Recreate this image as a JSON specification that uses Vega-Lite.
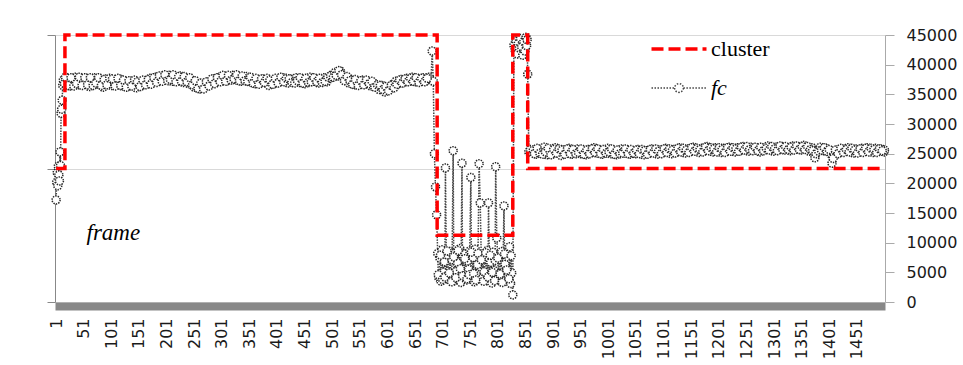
{
  "$schema": "https://vega.github.io/schema/vega-lite/v6.json",
  "autosize": {"type": "none"},
  "width": 830,
  "height": 267,
  "padding": {"left": 55, "top": 35, "right": 78, "bottom": 63},
  "background": "white",
  "config": {
    "view": {"stroke": null},
    "axis": {"labelFont": "DejaVu Sans", "labelFontSize": 16, "labelColor": "#1a1a1a", "labelOverlap": false, "format": "d"},
    "legend": {
      "orient": "none",
      "legendX": 613,
      "legendY": 3,
      "padding": 0,
      "symbolType": "stroke",
      "symbolSize": 3025,
      "symbolStrokeWidth": 3.5,
      "labelFont": "Liberation Serif",
      "labelFontSize": 22,
      "labelColor": "#000000",
      "labelOffset": 21,
      "rowPadding": 17
    }
  },
  "datasets": {
    "fc": [
      {"f":1,"v":17200},{"f":2,"v":20200},{"f":3,"v":21800},{"f":4,"v":19600},{"f":5,"v":22900},{"f":6,"v":21400},{"f":7,"v":20400},{"f":8,"v":25300},{"f":9,"v":23000},{"f":10,"v":31800},{"f":11,"v":32500},{"f":12,"v":34000},{"f":13,"v":36500},{"f":14,"v":37400},
      {"f":16,"v":36800},{"f":21,"v":37500},{"f":26,"v":36400},{"f":31,"v":37200},{"f":36,"v":37900},{"f":41,"v":36600},{"f":46,"v":37300},{"f":51,"v":36900},{"f":56,"v":37700},{"f":61,"v":36300},{"f":66,"v":37100},{"f":71,"v":37800},{"f":76,"v":36700},{"f":81,"v":37400},{"f":86,"v":36200},{"f":91,"v":37600},{"f":96,"v":37000},{"f":101,"v":36500},{"f":106,"v":37300},{"f":111,"v":36800},{"f":116,"v":37600},{"f":121,"v":36400},{"f":126,"v":37000},{"f":131,"v":36300},{"f":136,"v":37200},{"f":141,"v":36600},{"f":146,"v":36100},{"f":151,"v":37000},{"f":156,"v":36500},{"f":161,"v":37300},{"f":166,"v":36800},{"f":171,"v":37700},{"f":176,"v":37100},{"f":181,"v":37900},{"f":186,"v":37300},{"f":191,"v":38000},{"f":196,"v":37400},{"f":201,"v":37800},{"f":206,"v":38200},{"f":211,"v":37200},{"f":216,"v":37900},{"f":221,"v":37500},{"f":226,"v":38100},{"f":231,"v":37000},{"f":236,"v":37600},{"f":241,"v":36800},{"f":246,"v":37300},{"f":251,"v":36200},{"f":256,"v":36900},{"f":261,"v":35900},{"f":266,"v":36600},{"f":271,"v":36300},{"f":276,"v":37000},{"f":281,"v":36700},{"f":286,"v":37600},{"f":291,"v":37100},{"f":296,"v":37900},{"f":301,"v":37400},{"f":306,"v":38100},{"f":311,"v":37300},{"f":316,"v":37800},{"f":321,"v":38200},{"f":326,"v":37400},{"f":331,"v":37900},{"f":336,"v":37200},{"f":341,"v":37700},{"f":346,"v":38000},{"f":351,"v":37100},{"f":356,"v":37500},{"f":361,"v":36800},{"f":366,"v":37400},{"f":371,"v":36900},{"f":376,"v":37600},{"f":381,"v":37000},{"f":386,"v":36500},{"f":391,"v":37300},{"f":396,"v":36800},{"f":401,"v":37500},{"f":406,"v":37100},{"f":411,"v":37800},{"f":416,"v":37200},{"f":421,"v":36900},{"f":426,"v":37600},{"f":431,"v":37300},{"f":436,"v":37800},{"f":441,"v":37000},{"f":446,"v":37500},{"f":451,"v":36800},{"f":456,"v":37400},{"f":461,"v":37900},{"f":466,"v":37200},{"f":471,"v":37600},{"f":476,"v":36900},{"f":481,"v":37300},{"f":486,"v":37800},{"f":491,"v":37100},{"f":496,"v":37700},{"f":501,"v":38300},{"f":506,"v":38700},{"f":511,"v":38100},{"f":516,"v":38900},{"f":521,"v":38000},{"f":526,"v":37400},{"f":531,"v":36900},{"f":536,"v":37500},{"f":541,"v":36600},{"f":546,"v":37200},{"f":551,"v":36800},{"f":556,"v":37400},{"f":561,"v":36700},{"f":566,"v":37100},{"f":571,"v":36400},{"f":576,"v":36900},{"f":581,"v":36300},{"f":586,"v":35800},{"f":591,"v":36500},{"f":596,"v":35400},{"f":601,"v":36100},{"f":606,"v":35900},{"f":611,"v":36700},{"f":616,"v":37200},{"f":621,"v":36800},{"f":626,"v":37500},{"f":631,"v":37000},{"f":636,"v":37700},{"f":641,"v":37300},{"f":646,"v":37900},{"f":651,"v":37100},{"f":656,"v":37600},{"f":661,"v":37200},{"f":666,"v":37800},{"f":671,"v":37300},{"f":676,"v":37900},{"f":680,"v":37500},
      {"f":682,"v":42300},{"f":684,"v":37200},{"f":686,"v":25000},{"f":688,"v":19400},{"f":690,"v":14700},
      {"f":692,"v":8200},{"f":694,"v":4100},{"f":696,"v":7400},{"f":698,"v":3500},{"f":700,"v":8800},{"f":702,"v":5000},{"f":704,"v":6800},{"f":706,"v":22600},{"f":708,"v":4300},{"f":710,"v":7900},{"f":712,"v":3800},{"f":714,"v":8500},{"f":716,"v":4600},{"f":718,"v":7100},{"f":720,"v":25500},{"f":722,"v":3600},{"f":724,"v":8300},{"f":726,"v":5200},{"f":728,"v":6600},{"f":730,"v":4000},{"f":732,"v":9000},{"f":734,"v":3300},{"f":736,"v":23400},{"f":738,"v":7700},{"f":740,"v":4800},{"f":742,"v":8100},{"f":744,"v":3700},{"f":746,"v":6900},{"f":748,"v":5500},{"f":750,"v":8600},{"f":752,"v":21000},{"f":754,"v":4200},{"f":756,"v":7500},{"f":758,"v":3400},{"f":760,"v":8900},{"f":762,"v":4700},{"f":764,"v":6300},{"f":767,"v":23300},{"f":769,"v":16700},{"f":772,"v":3900},{"f":774,"v":8000},{"f":776,"v":5100},{"f":778,"v":7200},{"f":780,"v":3600},{"f":782,"v":8700},{"f":784,"v":16700},{"f":786,"v":4400},{"f":788,"v":6700},{"f":790,"v":3200},{"f":792,"v":8400},{"f":794,"v":5300},{"f":796,"v":7000},{"f":797,"v":22800},{"f":799,"v":10800},{"f":802,"v":4000},{"f":804,"v":7800},{"f":806,"v":3500},{"f":808,"v":8500},{"f":810,"v":4900},{"f":812,"v":16200},{"f":814,"v":6400},{"f":816,"v":3800},{"f":818,"v":7600},{"f":820,"v":4500},{"f":822,"v":9300},{"f":824,"v":3100},{"f":826,"v":4900},{"f":828,"v":1200},
      {"f":693,"v":4600},{"f":697,"v":7900},{"f":701,"v":3800},{"f":705,"v":4200},{"f":709,"v":8600},{"f":713,"v":4900},{"f":717,"v":3400},{"f":721,"v":7600},{"f":725,"v":4100},{"f":729,"v":8700},{"f":733,"v":5600},{"f":737,"v":4400},{"f":741,"v":7300},{"f":745,"v":3900},{"f":749,"v":4600},{"f":753,"v":8400},{"f":757,"v":4800},{"f":761,"v":3700},{"f":765,"v":8200},{"f":771,"v":7100},{"f":775,"v":3500},{"f":779,"v":8300},{"f":783,"v":4200},{"f":787,"v":7900},{"f":791,"v":5000},{"f":795,"v":3600},{"f":801,"v":7400},{"f":805,"v":4700},{"f":809,"v":3300},{"f":813,"v":8100},{"f":817,"v":5400},{"f":821,"v":3900},{"f":825,"v":7800},
      {"f":830,"v":43300},{"f":832,"v":42500},{"f":834,"v":44000},{"f":836,"v":41800},{"f":838,"v":43600},{"f":840,"v":42800},{"f":842,"v":44400},{"f":844,"v":43000},{"f":846,"v":41600},{"f":848,"v":43900},{"f":850,"v":42300},{"f":852,"v":44600},{"f":853,"v":43200},{"f":854,"v":44200},{"f":855,"v":38400},{"f":857,"v":25300},{"f":860,"v":25700},
      {"f":865,"v":25600},{"f":870,"v":24900},{"f":875,"v":25800},{"f":880,"v":25200},{"f":885,"v":26100},{"f":890,"v":24800},{"f":895,"v":25500},{"f":900,"v":25000},{"f":905,"v":26000},{"f":910,"v":25300},{"f":915,"v":24700},{"f":920,"v":25600},{"f":925,"v":25100},{"f":930,"v":25900},{"f":935,"v":24900},{"f":940,"v":25400},{"f":945,"v":25800},{"f":950,"v":25000},{"f":955,"v":25500},{"f":960,"v":24800},{"f":965,"v":25700},{"f":970,"v":25200},{"f":975,"v":26000},{"f":980,"v":25100},{"f":985,"v":25600},{"f":990,"v":24900},{"f":995,"v":25400},{"f":1000,"v":25900},{"f":1005,"v":25000},{"f":1010,"v":25500},{"f":1015,"v":24800},{"f":1020,"v":25300},{"f":1025,"v":25800},{"f":1030,"v":25100},{"f":1035,"v":25600},{"f":1040,"v":24900},{"f":1045,"v":25400},{"f":1050,"v":25000},{"f":1055,"v":25700},{"f":1060,"v":25200},{"f":1065,"v":24800},{"f":1070,"v":25500},{"f":1075,"v":25100},{"f":1080,"v":25800},{"f":1085,"v":25300},{"f":1090,"v":24900},{"f":1095,"v":25600},{"f":1100,"v":25200},{"f":1105,"v":25900},{"f":1110,"v":25400},{"f":1115,"v":25000},{"f":1120,"v":25700},{"f":1125,"v":25300},{"f":1130,"v":26000},{"f":1135,"v":25500},{"f":1140,"v":25100},{"f":1145,"v":25800},{"f":1150,"v":25400},{"f":1155,"v":26100},{"f":1160,"v":25600},{"f":1165,"v":25200},{"f":1170,"v":25900},{"f":1175,"v":25500},{"f":1180,"v":26200},{"f":1185,"v":25700},{"f":1190,"v":25300},{"f":1195,"v":26000},{"f":1200,"v":25600},{"f":1205,"v":25200},{"f":1210,"v":25900},{"f":1215,"v":25400},{"f":1220,"v":26100},{"f":1225,"v":25700},{"f":1230,"v":25300},{"f":1235,"v":26000},{"f":1240,"v":25500},{"f":1245,"v":26200},{"f":1250,"v":25800},{"f":1255,"v":25400},{"f":1260,"v":26100},{"f":1265,"v":25600},{"f":1270,"v":25900},{"f":1275,"v":25300},{"f":1280,"v":26000},{"f":1285,"v":25700},{"f":1290,"v":26300},{"f":1295,"v":25800},{"f":1300,"v":25400},{"f":1305,"v":26100},{"f":1310,"v":25700},{"f":1315,"v":26200},{"f":1320,"v":25600},{"f":1325,"v":26000},{"f":1330,"v":25500},{"f":1335,"v":26300},{"f":1340,"v":25800},{"f":1345,"v":26100},{"f":1350,"v":25600},{"f":1355,"v":26400},{"f":1360,"v":25900},{"f":1365,"v":25400},{"f":1370,"v":26000},{"f":1373,"v":25200},{"f":1375,"v":24300},{"f":1380,"v":25700},{"f":1385,"v":26100},{"f":1390,"v":25500},{"f":1395,"v":25900},{"f":1400,"v":25300},{"f":1403,"v":25000},{"f":1406,"v":23400},{"f":1410,"v":24800},{"f":1415,"v":25600},{"f":1420,"v":25200},{"f":1425,"v":25800},{"f":1430,"v":25400},{"f":1435,"v":26000},{"f":1440,"v":25500},{"f":1445,"v":25100},{"f":1450,"v":25800},{"f":1455,"v":25300},{"f":1460,"v":25900},{"f":1465,"v":25400},{"f":1470,"v":26000},{"f":1475,"v":25600},{"f":1480,"v":25200},{"f":1485,"v":25900},{"f":1490,"v":25500},{"f":1495,"v":25800},{"f":1500,"v":25300},{"f":1501,"v":25600},
      {"f":18,"v":37900},{"f":23,"v":36500},{"f":28,"v":37800},{"f":33,"v":36400},{"f":38,"v":36800},{"f":43,"v":37900},{"f":48,"v":36500},{"f":53,"v":37800},{"f":58,"v":36600},{"f":63,"v":37800},{"f":68,"v":36500},{"f":73,"v":36900},{"f":78,"v":37800},{"f":83,"v":36500},{"f":88,"v":37500},{"f":93,"v":36600},{"f":98,"v":37700},{"f":103,"v":37600},{"f":108,"v":36400},{"f":113,"v":37700},{"f":118,"v":36500},{"f":123,"v":37400},{"f":128,"v":36200},{"f":133,"v":37300},{"f":138,"v":36400},{"f":143,"v":37400},{"f":148,"v":37100},{"f":153,"v":36300},{"f":158,"v":37400},{"f":163,"v":36600},{"f":168,"v":37500},{"f":173,"v":36700},{"f":178,"v":37800},{"f":183,"v":37000},{"f":188,"v":38100},{"f":193,"v":37200},{"f":198,"v":38300},{"f":203,"v":37300},{"f":208,"v":37500},{"f":213,"v":38300},{"f":218,"v":37100},{"f":223,"v":38000},{"f":228,"v":37200},{"f":233,"v":38000},{"f":238,"v":37100},{"f":243,"v":37800},{"f":248,"v":36600},{"f":253,"v":37300},{"f":258,"v":36000},{"f":263,"v":36900},{"f":268,"v":35900},{"f":273,"v":37100},{"f":278,"v":36400},{"f":283,"v":37600},{"f":288,"v":36800},{"f":293,"v":37800},{"f":298,"v":37100},{"f":303,"v":38200},{"f":308,"v":37200},{"f":313,"v":38200},{"f":318,"v":37400},{"f":323,"v":37600},{"f":328,"v":38300},{"f":333,"v":37300},{"f":338,"v":38100},{"f":343,"v":37300},{"f":348,"v":37200},{"f":353,"v":37900},{"f":358,"v":36900},{"f":363,"v":37700},{"f":368,"v":36700},{"f":373,"v":37600},{"f":378,"v":37000},{"f":383,"v":37700},{"f":388,"v":37400},{"f":393,"v":36700},{"f":398,"v":37700},{"f":403,"v":36900},{"f":408,"v":37900},{"f":413,"v":37100},{"f":418,"v":37700},{"f":423,"v":37600},{"f":428,"v":37000},{"f":433,"v":36900},{"f":438,"v":37300},{"f":443,"v":37800},{"f":448,"v":36900},{"f":453,"v":37700},{"f":458,"v":37000},{"f":463,"v":37100},{"f":468,"v":37800},{"f":473,"v":37100},{"f":478,"v":37700},{"f":483,"v":37000},{"f":488,"v":37200},{"f":493,"v":37900},{"f":498,"v":38100},{"f":503,"v":37900},{"f":508,"v":38200},{"f":513,"v":39000},{"f":518,"v":38300},{"f":523,"v":37300},{"f":528,"v":38000},{"f":533,"v":37300},{"f":538,"v":36700},{"f":543,"v":37500},{"f":548,"v":36500},{"f":553,"v":37300},{"f":558,"v":36600},{"f":563,"v":37400},{"f":568,"v":36800},{"f":573,"v":37200},{"f":578,"v":36200},{"f":583,"v":36600},{"f":588,"v":36500},{"f":593,"v":35800},{"f":598,"v":36300},{"f":603,"v":35600},{"f":608,"v":36500},{"f":613,"v":36100},{"f":618,"v":36700},{"f":623,"v":37400},{"f":628,"v":36900},{"f":633,"v":37600},{"f":638,"v":37100},{"f":643,"v":37700},{"f":648,"v":37200},{"f":653,"v":37800},{"f":658,"v":37000},{"f":663,"v":37700},{"f":668,"v":37100},{"f":673,"v":37700},
      {"f":867,"v":25000},{"f":872,"v":25900},{"f":877,"v":25100},{"f":882,"v":24900},{"f":887,"v":25300},{"f":892,"v":25900},{"f":897,"v":24800},{"f":902,"v":25700},{"f":907,"v":25100},{"f":912,"v":25800},{"f":917,"v":25600},{"f":922,"v":24900},{"f":927,"v":25800},{"f":932,"v":25000},{"f":937,"v":25700},{"f":942,"v":25000},{"f":947,"v":25200},{"f":952,"v":25800},{"f":957,"v":24900},{"f":962,"v":25600},{"f":967,"v":25000},{"f":972,"v":25800},{"f":977,"v":25200},{"f":982,"v":25800},{"f":987,"v":25000},{"f":992,"v":25700},{"f":997,"v":25100},{"f":1002,"v":25300},{"f":1007,"v":25800},{"f":1012,"v":24900},{"f":1017,"v":25600},{"f":1022,"v":25000},{"f":1027,"v":25100},{"f":1032,"v":25800},{"f":1037,"v":25000},{"f":1042,"v":25700},{"f":1047,"v":25100},{"f":1052,"v":25600},{"f":1057,"v":25000},{"f":1062,"v":25700},{"f":1067,"v":25500},{"f":1072,"v":24900},{"f":1077,"v":25700},{"f":1082,"v":25100},{"f":1087,"v":25800},{"f":1092,"v":25400},{"f":1097,"v":25000},{"f":1102,"v":25800},{"f":1107,"v":25200},{"f":1112,"v":25800},{"f":1117,"v":25600},{"f":1122,"v":25100},{"f":1127,"v":25900},{"f":1132,"v":25300},{"f":1137,"v":25900},{"f":1142,"v":25600},{"f":1147,"v":25200},{"f":1152,"v":26000},{"f":1157,"v":25400},{"f":1162,"v":25900},{"f":1167,"v":25700},{"f":1172,"v":25300},{"f":1177,"v":26100},{"f":1182,"v":25500},{"f":1187,"v":26000},{"f":1192,"v":25800},{"f":1197,"v":25300},{"f":1202,"v":26000},{"f":1207,"v":25700},{"f":1212,"v":25200},{"f":1217,"v":26000},{"f":1222,"v":25400},{"f":1227,"v":26000},{"f":1232,"v":25800},{"f":1237,"v":25400},{"f":1242,"v":26100},{"f":1247,"v":25600},{"f":1252,"v":26200},{"f":1257,"v":25700},{"f":1262,"v":25500},{"f":1267,"v":26100},{"f":1272,"v":25500},{"f":1277,"v":26100},{"f":1282,"v":25500},{"f":1287,"v":25900},{"f":1292,"v":25600},{"f":1297,"v":26200},{"f":1302,"v":25800},{"f":1307,"v":25500},{"f":1312,"v":26300},{"f":1317,"v":25700},{"f":1322,"v":26200},{"f":1327,"v":25700},{"f":1332,"v":26100},{"f":1337,"v":25600},{"f":1342,"v":26300},{"f":1347,"v":25700},{"f":1352,"v":26200},{"f":1357,"v":25700},{"f":1362,"v":26200},{"f":1367,"v":25700},{"f":1371,"v":25500},{"f":1377,"v":25000},{"f":1382,"v":25400},{"f":1387,"v":25600},{"f":1392,"v":26000},{"f":1397,"v":25400},{"f":1401,"v":25700},{"f":1408,"v":24200},{"f":1412,"v":25600},{"f":1417,"v":25000},{"f":1422,"v":25900},{"f":1427,"v":25200},{"f":1432,"v":25700},{"f":1437,"v":25300},{"f":1442,"v":25900},{"f":1447,"v":25600},{"f":1452,"v":25100},{"f":1457,"v":25800},{"f":1462,"v":25200},{"f":1467,"v":25900},{"f":1472,"v":25300},{"f":1477,"v":25900},{"f":1482,"v":25700},{"f":1487,"v":25200},{"f":1492,"v":25800},{"f":1497,"v":25500}
    ],
    "cluster": [
      {"f":1,"c":2},{"f":17,"c":4},{"f":691,"c":1},{"f":828,"c":4},{"f":855,"c":2},{"f":1493,"c":2}
    ]
  },
  "encoding": {
    "x": {"field": "f", "type": "quantitative", "scale": {"domain": [-1, 1502], "nice": false, "zero": false},
      "axis": {"values": [1,51,101,151,201,251,301,351,401,451,501,551,601,651,701,751,801,851,901,951,1001,1051,1101,1151,1201,1251,1301,1351,1401,1451],
        "format": "d", "labelOverlap": false, "labelSeparation": 0, "labelBound": false,
        "labelAngle": -90, "ticks": false, "grid": false, "domainWidth": 8, "domainColor": "#888888", "offset": 4, "labelPadding": 12,
        "title": "frame", "titleFont": "Liberation Serif", "titleFontStyle": "italic", "titleFontWeight": "normal", "titleFontSize": 23, "titleColor": "#000000",
        "titleX": 31, "titleY": -67, "titleAlign": "left", "titleBaseline": "alphabetic", "titleAnchor": null}}
  },
  "layer": [
    {
      "data": {"name": "fc"},
      "encoding": {
        "y": {"field": "v", "type": "quantitative", "scale": {"domain": [0, 45000], "nice": false},
          "axis": {"orient": "right", "values": [0,5000,10000,15000,20000,25000,30000,35000,40000,45000], "format": "d", "labelOverlap": false, "labelSeparation": 0, "grid": false, "domainColor": "#aaaaaa", "tickColor": "#aaaaaa", "tickSize": 9, "labelPadding": 12, "title": null}}
      },
      "layer": [
        {
          "mark": {"type": "line", "strokeWidth": 1.5, "strokeDash": [1.5, 1.2], "interpolate": "linear"},
          "encoding": {
            "color": {"datum": "fc", "type": "nominal",
              "scale": {"domain": ["cluster", "fc"], "range": ["#ff0000", "#444444"]},
              "legend": {"title": null,
                "encode": {
                  "symbols": {"update": {
                    "shape": {"signal": "datum.value === 'cluster' ? 'stroke' : 'M-1,0H-0.16M0.16,0H1M0.16,0A0.16,0.16,0,1,1,-0.16,0A0.16,0.16,0,1,1,0.16,0'"},
                    "strokeDash": {"signal": "datum.value === 'cluster' ? [12, 5] : [1.5, 1.5]"},
                    "strokeWidth": {"signal": "datum.value === 'cluster' ? 3.5 : 1.5"},
                    "fill": {"value": "white"},
                    "opacity": {"value": 1}
                  }},
                  "labels": {"update": {"fontStyle": {"signal": "datum.value === 'fc' ? 'italic' : 'normal'"}}}
                }}}
          }
        },
        {
          "mark": {"type": "point", "shape": "circle", "size": 64, "filled": false, "fill": "white", "fillOpacity": 1, "stroke": "#262626", "strokeWidth": 1.5, "strokeDash": [1.4, 1.1], "opacity": 1},
          "encoding": {}
        }
      ]
    },
    {
      "data": {"name": "cluster"},
      "mark": {"type": "line", "interpolate": "step-after", "strokeWidth": 3.5, "strokeDash": [12, 5]},
      "encoding": {
        "y": {"field": "c", "type": "quantitative", "scale": {"domain": [0, 4], "nice": false},
          "axis": {"orient": "left", "values": [0, 2, 4], "labels": false, "grid": true, "gridColor": "#d9d9d9", "domainColor": "#888888", "tickColor": "#888888", "tickSize": 8, "title": null}},
        "color": {"datum": "cluster", "type": "nominal"}
      }
    }
  ],
  "resolve": {"scale": {"y": "independent"}, "axis": {"y": "independent"}}
}
